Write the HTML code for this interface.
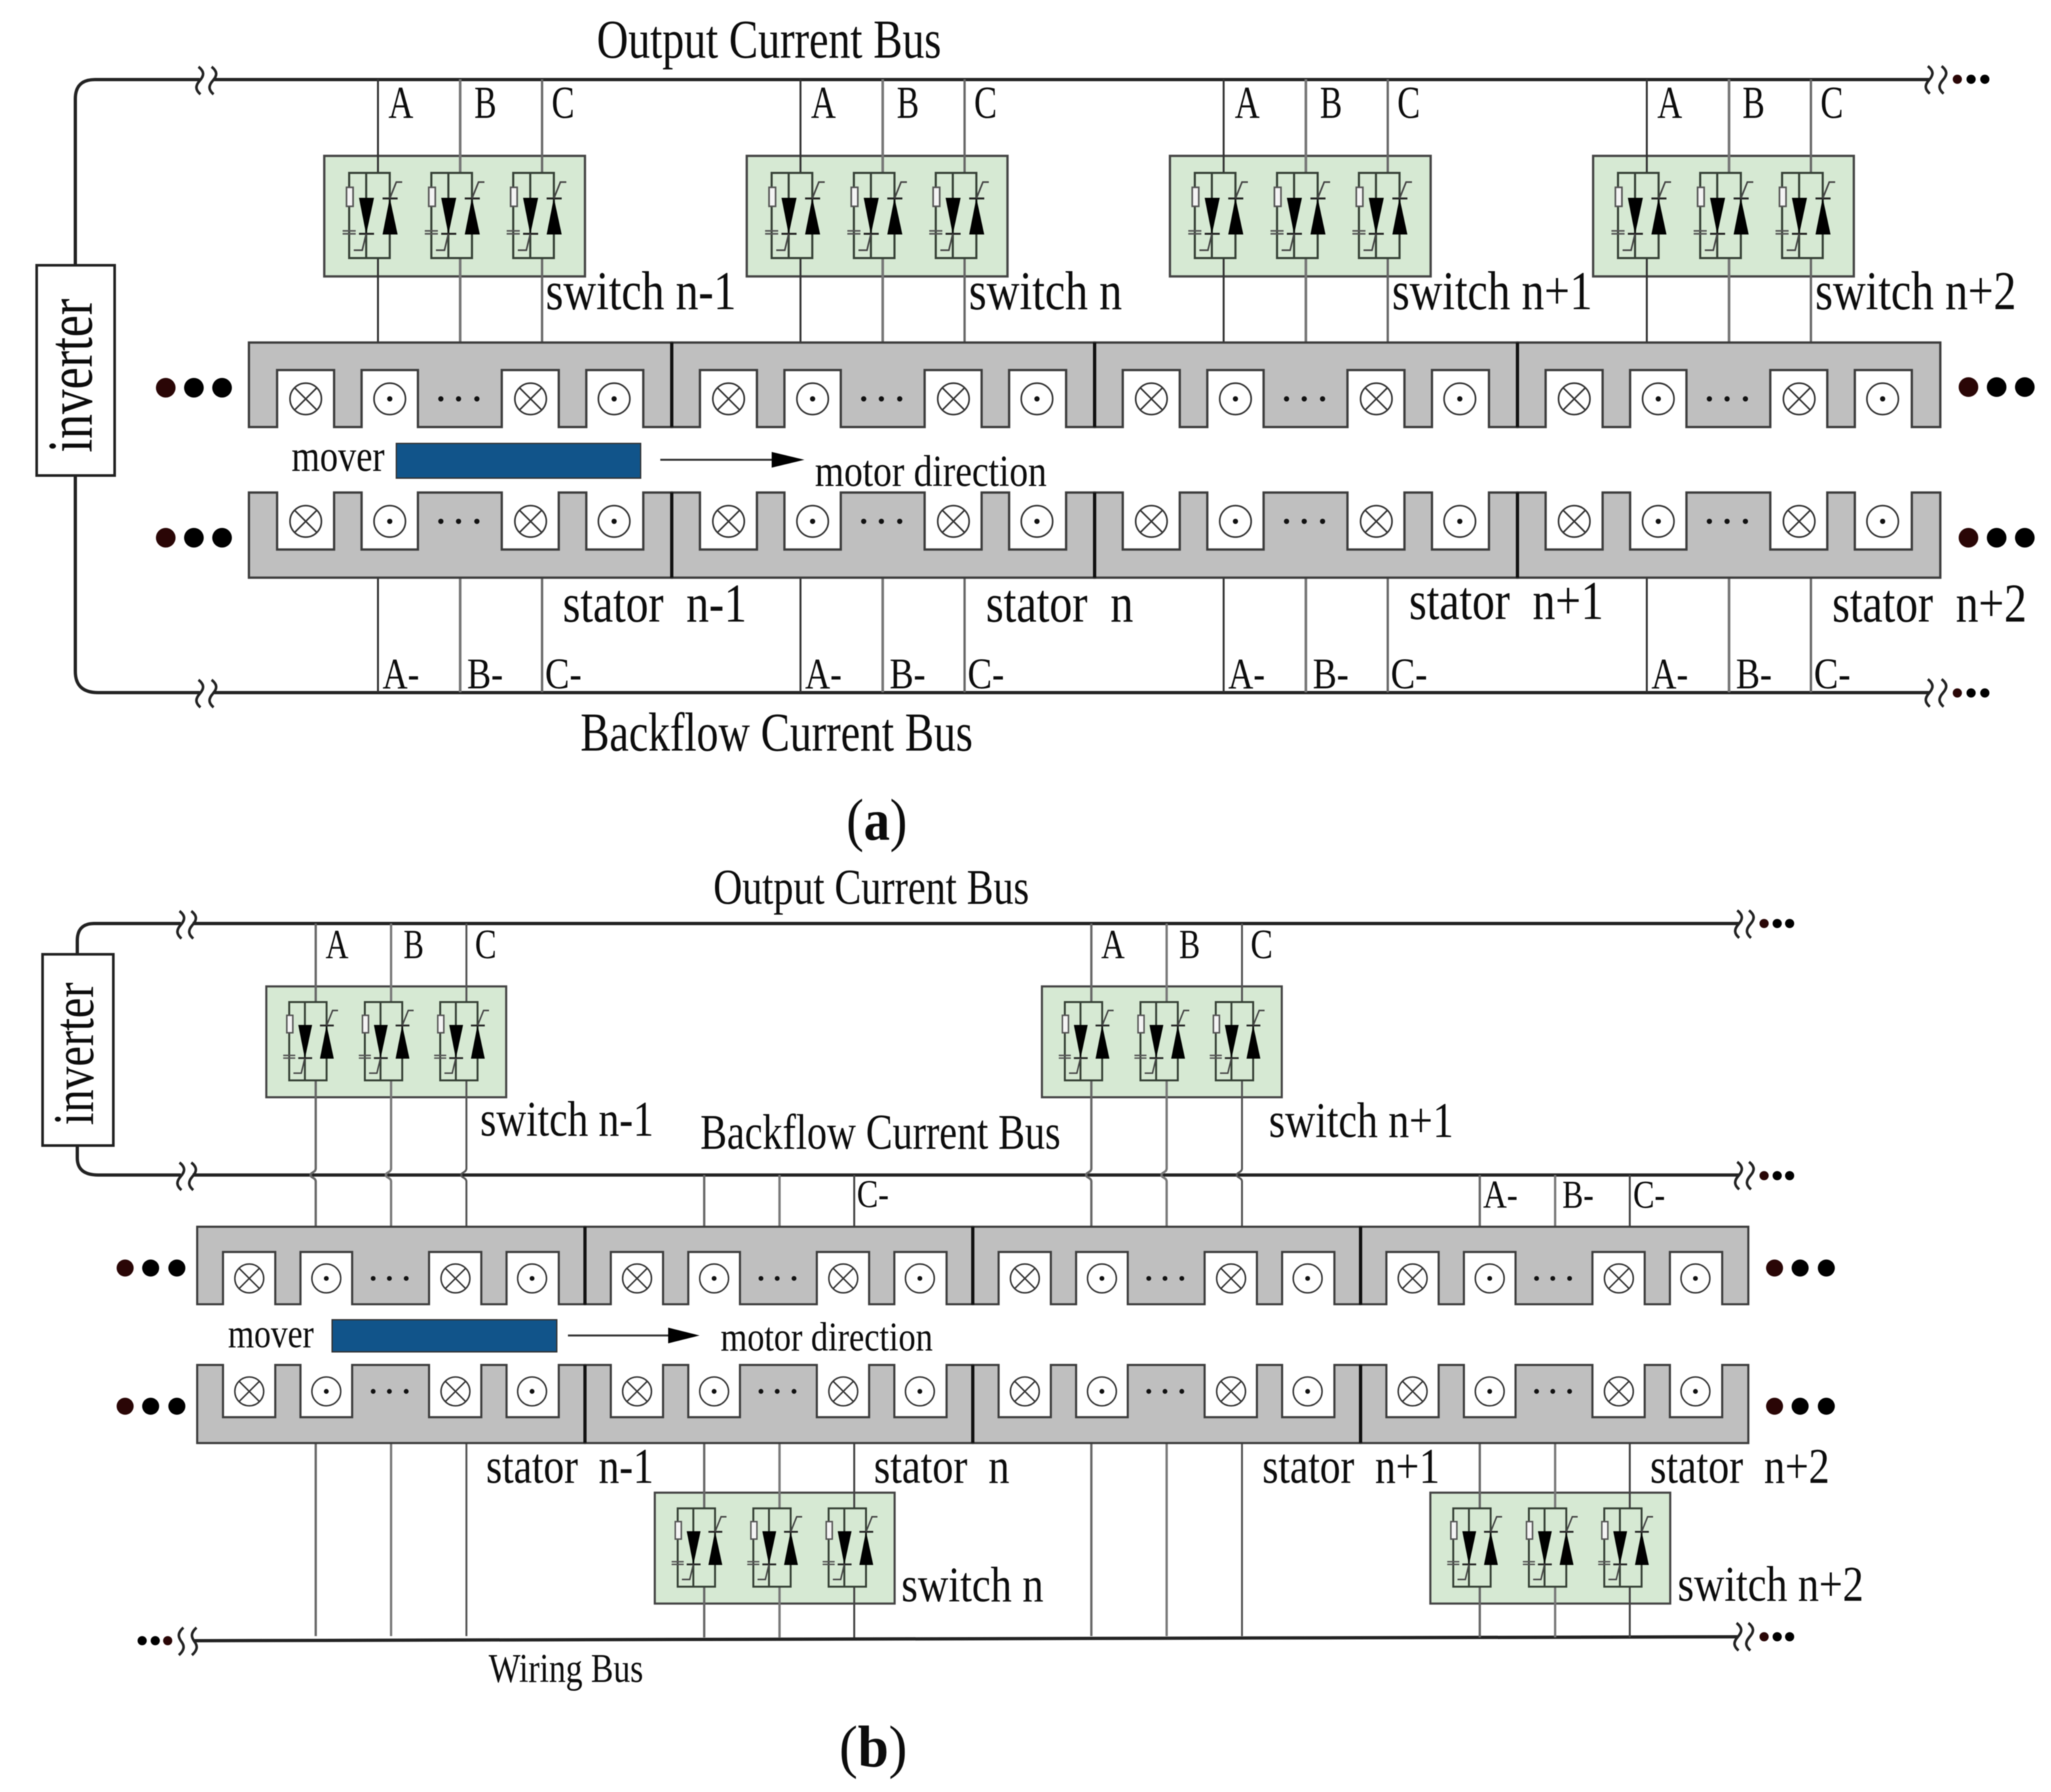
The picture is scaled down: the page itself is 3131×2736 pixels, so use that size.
<!DOCTYPE html>
<html><head><meta charset="utf-8"><style>
html,body{margin:0;padding:0;background:#fff}
svg{display:block;filter:blur(.7px)}
text{font-family:"Liberation Serif",serif;fill:#0c0c0c;white-space:pre}
.bus{fill:none;stroke:#222;stroke-width:5}
.sq{fill:none;stroke:#222;stroke-width:4}
</style></head><body>
<svg xmlns="http://www.w3.org/2000/svg" width="3131" height="2736" viewBox="0 0 3131 2736">
<defs>
<g id="marks-up">
<g fill="#fff" stroke="#333" stroke-width="2.5">
<circle cx="86.7" cy="86" r="24"/><circle cx="215" cy="86" r="24"/><circle cx="430" cy="86" r="24"/><circle cx="557.5" cy="86" r="24"/>
</g>
<path d="M69.7 69L103.7 103M103.700 69L69.700 103M413 69L447 103M447 69L413 103" stroke="#333" stroke-width="2.5"/>
<g fill="#111"><circle cx="215" cy="86" r="4"/><circle cx="557.5" cy="86" r="4"/><circle cx="293" cy="86" r="4"/><circle cx="320" cy="86" r="4"/><circle cx="348" cy="86" r="4"/></g>
</g>
<g id="marks-dn">
<g fill="#fff" stroke="#333" stroke-width="2.5">
<circle cx="86.7" cy="44" r="24"/><circle cx="215" cy="44" r="24"/><circle cx="430" cy="44" r="24"/><circle cx="557.5" cy="44" r="24"/>
</g>
<path d="M69.7 27L103.700 61M103.700 27L69.700 61M413 27L447 61M447 27L413 61" stroke="#333" stroke-width="2.5"/>
<g fill="#111"><circle cx="215" cy="44" r="4"/><circle cx="557.5" cy="44" r="4"/><circle cx="293" cy="44" r="4"/><circle cx="320" cy="44" r="4"/><circle cx="348" cy="44" r="4"/></g>
</g>
<g id="st-up">
<path d="M0 0H645.500V129H602V42H515V129H473V42H386V129H258V42H172V129H130V42H43V129H0Z" fill="#bfbfbf" stroke="#3c3c3c" stroke-width="3.5"/>
<use href="#marks-up"/>
</g>
<g id="st-dn">
<path d="M0 0H43V87H130V0H172V87H258V0H386V87H473V0H515V87H602V0H645.500V130H0Z" fill="#bfbfbf" stroke="#3c3c3c" stroke-width="3.5"/>
<use href="#marks-dn"/>
</g>
<g id="cell">
<g fill="none" stroke="#354035" stroke-width="3.2">
<rect x="-44" y="26" width="62" height="130"/>
<path d="M-18 26V156"/>
</g>
<rect x="-48" y="48" width="10" height="29" fill="#f4f4f4" stroke="#555" stroke-width="2.5"/>
<path d="M-54 114.500H-34M-54 119H-34" stroke="#555" stroke-width="2.500"/>
<path d="M-29 64H-6L-18 120Z" fill="#000"/>
<path d="M-29 119H-6" stroke="#222" stroke-width="3"/>
<path d="M7 120H30L18 64Z" fill="#000"/>
<path d="M7 65H30" stroke="#222" stroke-width="3"/>
<path d="M18 65L28 40H37M-18 119L-24 144H-37" fill="none" stroke="#444" stroke-width="2.5"/>
</g>
<g id="cells"><use href="#cell"/><use href="#cell" x="125.5"/><use href="#cell" x="250.5"/></g>
<g id="box"><rect x="-82" y="0" width="398" height="184" fill="#d6e9d3" stroke="#444" stroke-width="3.5"/></g>
<g id="wa" fill="none">
<path d="M0 121V264M0 394V523M0 882V1057" stroke="#333" stroke-width="3"/>
<path d="M125.500 121V264M125.500 394V523M125.500 882V1057" stroke="#777" stroke-width="4"/>
<path d="M250.500 121V264M250.500 394V523M250.500 882V1057" stroke="#666" stroke-width="3.5"/>
</g>
<path id="sq" d="M-2 -21C7 -14 7 -8 0 0C-7 8 -7 14 1 21"/>
<path id="sq2" d="M5 -21C-5 -12 -3 -6 3 2C7 8 6 14 -2 21"/>
<path id="j1" fill="none" d="M0 1410V1530M0 1650V1784C0 1790 -8 1790 -8 1794C-8 1798 0 1798 0 1804V1873M0 2203V2498"/>
<path id="j2" fill="none" d="M0 1794V1873M0 2203V2303M0 2423V2500"/>
<g id="wbj"><use href="#j1" stroke="#666" stroke-width="3.5"/><use href="#j1" x="115" stroke="#777" stroke-width="3.5"/><use href="#j1" x="230" stroke="#555" stroke-width="3"/></g>
<g id="wbn"><use href="#j2" stroke="#666" stroke-width="3.5"/><use href="#j2" x="115" stroke="#777" stroke-width="3.5"/><use href="#j2" x="229" stroke="#444" stroke-width="3"/></g>
</defs>

<!-- PANEL A -->
<path class="bus" d="M115 405V151Q115 121.500 145 121.500H305M325 121.500H2945"/>
<path class="bus" d="M115 726V1025Q115 1057.500 150 1057.500H305M325 1057.500H2945"/>
<g class="sq">
<use href="#sq" x="305" y="123"/><use href="#sq" x="325" y="123"/><use href="#sq" x="305" y="1059"/><use href="#sq" x="325" y="1059"/>
<use href="#sq" x="2945" y="122"/><use href="#sq" x="2966" y="122"/><use href="#sq" x="2945" y="1058"/><use href="#sq" x="2966" y="1058"/>
</g>
<g fill="#000">
<circle cx="2988" cy="121" r="7" fill="#2a0606"/><circle cx="3009" cy="121" r="7"/><circle cx="3030" cy="121" r="7"/>
<circle cx="2988" cy="1058" r="7" fill="#2a0606"/><circle cx="3009" cy="1058" r="7"/><circle cx="3030" cy="1058" r="7"/>
<circle cx="253" cy="592" r="15" fill="#2a0606"/><circle cx="296" cy="592" r="15"/><circle cx="339" cy="592" r="15"/>
<circle cx="253" cy="821" r="15" fill="#2a0606"/><circle cx="296" cy="821" r="15"/><circle cx="339" cy="821" r="15"/>
<circle cx="3005" cy="591" r="15" fill="#2a0606"/><circle cx="3048" cy="591" r="15"/><circle cx="3091" cy="591" r="15"/>
<circle cx="3005" cy="821" r="15" fill="#2a0606"/><circle cx="3048" cy="821" r="15"/><circle cx="3091" cy="821" r="15"/>
</g>
<rect x="56" y="405" width="119" height="321" fill="#fff" stroke="#222" stroke-width="4"/>
<use href="#box" x="577" y="238"/><use href="#box" x="1222" y="238"/><use href="#box" x="1868" y="238"/><use href="#box" x="2514" y="238"/>
<use href="#wa" x="577"/><use href="#wa" x="1222"/><use href="#wa" x="1868"/><use href="#wa" x="2514"/>
<use href="#cells" x="577" y="238"/><use href="#cells" x="1222" y="238"/><use href="#cells" x="1868" y="238"/><use href="#cells" x="2514" y="238"/>
<use href="#st-up" x="380" y="523"/><use href="#st-up" x="1025.500" y="523"/><use href="#st-up" x="1671" y="523"/><use href="#st-up" x="2316.500" y="523"/>
<use href="#st-dn" x="380" y="752"/><use href="#st-dn" x="1025.500" y="752"/><use href="#st-dn" x="1671" y="752"/><use href="#st-dn" x="2316.500" y="752"/>
<path d="M1025.500 523V652M1671 523V652M2316.500 523V652M1025.500 752V882M1671 752V882M2316.500 752V882" stroke="#111" stroke-width="5"/>
<rect x="605" y="677" width="373" height="53" fill="#11548a" stroke="#333" stroke-width="2"/>
<path d="M1008 702H1185" stroke="#333" stroke-width="3"/><path d="M1178 690L1228 702L1178 714Z" fill="#000"/>

<g font-size="84">
<text x="911" y="88" textLength="526" lengthAdjust="spacingAndGlyphs">Output Current Bus</text>
<text x="886" y="1146" textLength="599" lengthAdjust="spacingAndGlyphs">Backflow Current Bus</text>
<text x="833" y="472" textLength="291" lengthAdjust="spacingAndGlyphs">switch n-1</text>
<text x="1479" y="472" textLength="234" lengthAdjust="spacingAndGlyphs">switch n</text>
<text x="2125" y="472" textLength="306" lengthAdjust="spacingAndGlyphs">switch n+1</text>
<text x="2771" y="472" textLength="307" lengthAdjust="spacingAndGlyphs">switch n+2</text>
<text x="859" y="949" textLength="281" lengthAdjust="spacingAndGlyphs">stator  n-1</text>
<text x="1505" y="949" textLength="225" lengthAdjust="spacingAndGlyphs">stator  n</text>
<text x="2151" y="945" textLength="297" lengthAdjust="spacingAndGlyphs">stator  n+1</text>
<text x="2797" y="949" textLength="297" lengthAdjust="spacingAndGlyphs">stator  n+2</text>
</g>
<text transform="translate(140,691) rotate(-90)" font-size="98" textLength="235" lengthAdjust="spacingAndGlyphs">inverter</text>
<g font-size="68">
<text x="445" y="719" textLength="142" lengthAdjust="spacingAndGlyphs">mover</text>
<text x="1244" y="742" textLength="354" lengthAdjust="spacingAndGlyphs">motor direction</text>
</g>
<g font-size="70">
<text x="593" y="180" textLength="38" lengthAdjust="spacingAndGlyphs">A</text><text x="724" y="180" textLength="34" lengthAdjust="spacingAndGlyphs">B</text><text x="842" y="180" textLength="35" lengthAdjust="spacingAndGlyphs">C</text>
<text x="1238" y="180" textLength="38" lengthAdjust="spacingAndGlyphs">A</text><text x="1369" y="180" textLength="34" lengthAdjust="spacingAndGlyphs">B</text><text x="1487" y="180" textLength="35" lengthAdjust="spacingAndGlyphs">C</text>
<text x="1885" y="180" textLength="38" lengthAdjust="spacingAndGlyphs">A</text><text x="2015" y="180" textLength="34" lengthAdjust="spacingAndGlyphs">B</text><text x="2133" y="180" textLength="35" lengthAdjust="spacingAndGlyphs">C</text>
<text x="2530" y="180" textLength="38" lengthAdjust="spacingAndGlyphs">A</text><text x="2660" y="180" textLength="34" lengthAdjust="spacingAndGlyphs">B</text><text x="2779" y="180" textLength="35" lengthAdjust="spacingAndGlyphs">C</text>
</g>
<g font-size="67">
<text x="584" y="1051" textLength="56" lengthAdjust="spacingAndGlyphs">A-</text><text x="713" y="1051" textLength="55" lengthAdjust="spacingAndGlyphs">B-</text><text x="832" y="1051" textLength="56" lengthAdjust="spacingAndGlyphs">C-</text>
<text x="1229" y="1051" textLength="56" lengthAdjust="spacingAndGlyphs">A-</text><text x="1358" y="1051" textLength="55" lengthAdjust="spacingAndGlyphs">B-</text><text x="1477" y="1051" textLength="56" lengthAdjust="spacingAndGlyphs">C-</text>
<text x="1875" y="1051" textLength="56" lengthAdjust="spacingAndGlyphs">A-</text><text x="2004" y="1051" textLength="55" lengthAdjust="spacingAndGlyphs">B-</text><text x="2123" y="1051" textLength="56" lengthAdjust="spacingAndGlyphs">C-</text>
<text x="2521" y="1051" textLength="56" lengthAdjust="spacingAndGlyphs">A-</text><text x="2650" y="1051" textLength="55" lengthAdjust="spacingAndGlyphs">B-</text><text x="2769" y="1051" textLength="56" lengthAdjust="spacingAndGlyphs">C-</text>
</g>
<text x="1292" y="1282" font-size="90" textLength="93" lengthAdjust="spacingAndGlyphs">(<tspan font-weight="bold">a</tspan>)</text>

<!-- PANEL B -->
<path class="bus" d="M118 1456V1436Q118 1410 144 1410H276M294 1410H2654"/>
<path class="bus" d="M118 1749V1768Q118 1794 150 1794H276M294 1794H2654"/>
<path class="bus" d="M295 2505L2653 2499"/>
<g class="sq">
<use href="#sq" x="276" y="1412"/><use href="#sq" x="294" y="1412"/><use href="#sq" x="276" y="1796"/><use href="#sq" x="294" y="1796"/>
<use href="#sq2" x="275" y="2506"/><use href="#sq2" x="295" y="2506"/>
<use href="#sq" x="2654" y="1411"/><use href="#sq" x="2672" y="1411"/><use href="#sq" x="2654" y="1795"/><use href="#sq" x="2672" y="1795"/><use href="#sq" x="2653" y="2499"/><use href="#sq" x="2671" y="2499"/>
</g>
<g fill="#000">
<circle cx="2693" cy="1410" r="7" fill="#2a0606"/><circle cx="2713" cy="1410" r="7"/><circle cx="2732" cy="1410" r="7"/>
<circle cx="2693" cy="1795" r="7" fill="#2a0606"/><circle cx="2713" cy="1795" r="7"/><circle cx="2732" cy="1795" r="7"/>
<circle cx="2693" cy="2499" r="7" fill="#2a0606"/><circle cx="2713" cy="2499" r="7"/><circle cx="2732" cy="2499" r="7"/>
<circle cx="217" cy="2505" r="7"/><circle cx="237" cy="2505" r="7"/><circle cx="256" cy="2505" r="7" fill="#2a0606"/>
<circle cx="191" cy="1936" r="13" fill="#2a0606"/><circle cx="230" cy="1936" r="13"/><circle cx="270" cy="1936" r="13"/>
<circle cx="191" cy="2147" r="13" fill="#2a0606"/><circle cx="230" cy="2147" r="13"/><circle cx="270" cy="2147" r="13"/>
<circle cx="2709" cy="1936" r="13" fill="#2a0606"/><circle cx="2748" cy="1936" r="13"/><circle cx="2788" cy="1936" r="13"/>
<circle cx="2709" cy="2147" r="13" fill="#2a0606"/><circle cx="2748" cy="2147" r="13"/><circle cx="2788" cy="2147" r="13"/>
</g>
<rect x="65" y="1457" width="108" height="292" fill="#fff" stroke="#222" stroke-width="4"/>
<use href="#box" transform="translate(482,1506) scale(.92)"/>
<use href="#box" transform="translate(1666,1506) scale(.92)"/>
<use href="#box" transform="translate(1075,2279) scale(.92)"/>
<use href="#box" transform="translate(2259,2279) scale(.92)"/>
<use href="#wbj" x="482"/><use href="#wbj" x="1666"/><use href="#wbn" x="1075"/><use href="#wbn" x="2259"/>
<use href="#cells" transform="translate(482,1506) scale(.92)"/>
<use href="#cells" transform="translate(1666,1506) scale(.92)"/>
<use href="#cells" transform="translate(1075,2279) scale(.92)"/>
<use href="#cells" transform="translate(2259,2279) scale(.92)"/>
<use href="#st-up" transform="translate(301,1873) scale(.917)"/><use href="#st-up" transform="translate(893,1873) scale(.917)"/><use href="#st-up" transform="translate(1485,1873) scale(.917)"/><use href="#st-up" transform="translate(2077,1873) scale(.917)"/>
<use href="#st-dn" transform="translate(301,2084) scale(.917)"/><use href="#st-dn" transform="translate(893,2084) scale(.917)"/><use href="#st-dn" transform="translate(1485,2084) scale(.917)"/><use href="#st-dn" transform="translate(2077,2084) scale(.917)"/>
<path d="M893 1873V1992M1485 1873V1992M2077 1873V1992M893 2084V2203M1485 2084V2203M2077 2084V2203" stroke="#111" stroke-width="5"/>
<rect x="507" y="2015" width="343" height="49" fill="#11548a" stroke="#333" stroke-width="2"/>
<path d="M867 2039H1030" stroke="#333" stroke-width="3"/><path d="M1020 2027L1068 2039L1020 2051Z" fill="#000"/>

<g font-size="76">
<text x="1089" y="1380" textLength="482" lengthAdjust="spacingAndGlyphs">Output Current Bus</text>
<text x="1069" y="1754" textLength="550" lengthAdjust="spacingAndGlyphs">Backflow Current Bus</text>
<text x="733" y="1734" textLength="265" lengthAdjust="spacingAndGlyphs">switch n-1</text>
<text x="1937" y="1736" textLength="282" lengthAdjust="spacingAndGlyphs">switch n+1</text>
<text x="1376" y="2445" textLength="217" lengthAdjust="spacingAndGlyphs">switch n</text>
<text x="2561" y="2444" textLength="284" lengthAdjust="spacingAndGlyphs">switch n+2</text>
<text x="742" y="2264" textLength="256" lengthAdjust="spacingAndGlyphs">stator  n-1</text>
<text x="1334" y="2264" textLength="207" lengthAdjust="spacingAndGlyphs">stator  n</text>
<text x="1927" y="2264" textLength="271" lengthAdjust="spacingAndGlyphs">stator  n+1</text>
<text x="2519" y="2264" textLength="274" lengthAdjust="spacingAndGlyphs">stator  n+2</text>
</g>
<text transform="translate(142,1718) rotate(-90)" font-size="88" textLength="218" lengthAdjust="spacingAndGlyphs">inverter</text>
<g font-size="62">
<text x="348" y="2057" textLength="131" lengthAdjust="spacingAndGlyphs">mover</text>
<text x="1100" y="2062" textLength="324" lengthAdjust="spacingAndGlyphs">motor direction</text>
<text x="746" y="2568" textLength="236" lengthAdjust="spacingAndGlyphs">Wiring Bus</text>
</g>
<g font-size="63">
<text x="497" y="1463" textLength="35" lengthAdjust="spacingAndGlyphs">A</text><text x="616" y="1463" textLength="31" lengthAdjust="spacingAndGlyphs">B</text><text x="725" y="1463" textLength="33" lengthAdjust="spacingAndGlyphs">C</text>
<text x="1681" y="1463" textLength="36" lengthAdjust="spacingAndGlyphs">A</text><text x="1800" y="1463" textLength="32" lengthAdjust="spacingAndGlyphs">B</text><text x="1909" y="1463" textLength="34" lengthAdjust="spacingAndGlyphs">C</text>
</g>
<g font-size="60">
<text x="1308" y="1843" textLength="49" lengthAdjust="spacingAndGlyphs">C-</text>
<text x="2264" y="1844" textLength="53" lengthAdjust="spacingAndGlyphs">A-</text><text x="2385" y="1844" textLength="48" lengthAdjust="spacingAndGlyphs">B-</text><text x="2493" y="1844" textLength="49" lengthAdjust="spacingAndGlyphs">C-</text>
</g>
<text x="1281" y="2697" font-size="90" textLength="104" lengthAdjust="spacingAndGlyphs">(<tspan font-weight="bold">b</tspan>)</text>
</svg>
</body></html>
